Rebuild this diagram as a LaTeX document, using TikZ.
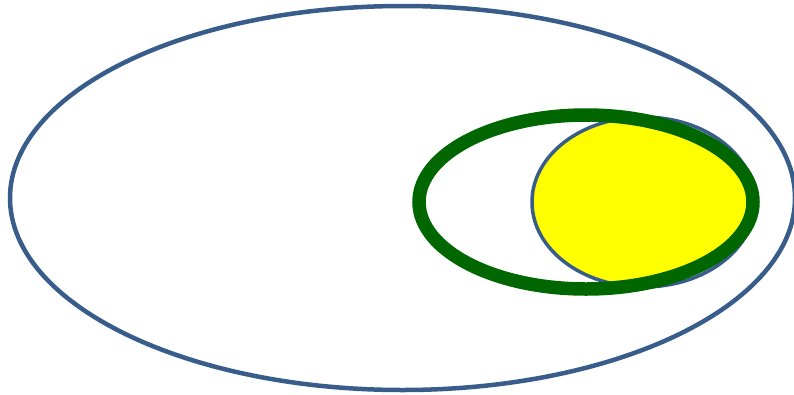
\documentclass[tikz,border=0pt]{standalone}
\definecolor{outlineblue}{RGB}{56,93,138}
\definecolor{ringgreen}{RGB}{0,102,0}
\definecolor{fillyellow}{RGB}{255,255,0}
\tikzset{
  blueline/.style={draw=outlineblue, line width=4.5pt},
  thinblue/.style={draw=outlineblue, line width=3.5pt},
  greenring/.style={draw=ringgreen, line width=13.5pt}
}
\begin{document}
\begin{tikzpicture}[x=1pt,y=-1pt]
\useasboundingbox (0,0) rectangle (794,394);
% outer ellipse
\draw[blueline] (402.5,198) ellipse [x radius=392.5, y radius=192];
% yellow region: intersection of small ellipse and green ellipse
\begin{scope}
  \clip (586,202) ellipse [x radius=167, y radius=87];
  \fill[fillyellow] (643.5,202) ellipse [x radius=111.5, y radius=85];
\end{scope}
\draw[thinblue] (643.5,202) ellipse [x radius=111.5, y radius=85];
% green ring
\draw[greenring] (586,202) ellipse [x radius=167, y radius=87];
\end{tikzpicture}
\end{document}
